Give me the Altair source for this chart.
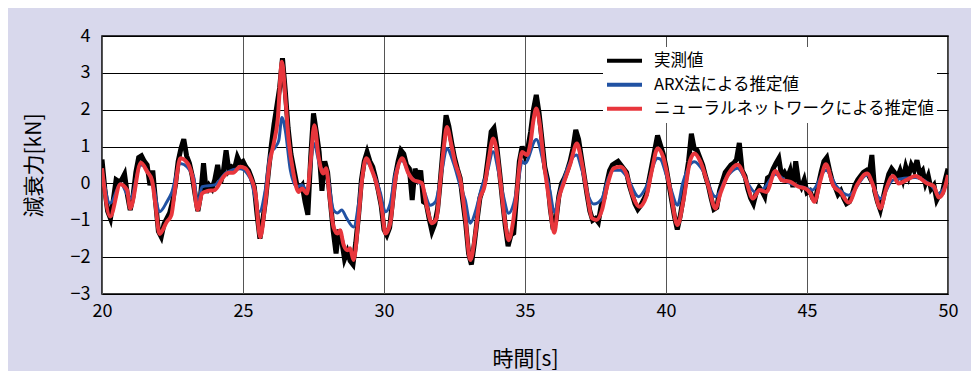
import altair as alt
import pandas as pd

SERIES = ["実測値", "ARX法による推定値", "ニューラルネットワークによる推定値"]
COLORS = ["#000000", "#2152a3", "#e8363c"]
FONT = "Noto Sans CJK JP"

# measured (sampled every 0.1 s from 20.0 to 50.0)
black_t = [round(20 + 0.1 * i, 1) for i in range(301)]
black_v = [
    0.65, -0.15, -0.75, -0.95, -0.45, 0.1, 0.05, 0.1, 0.25, -0.3,
    -0.72, -0.35, 0.3, 0.7, 0.75, 0.6, 0.5, -0.05, 0.35, -0.5,
    -1.3, -1.45, -1.1, -0.95, -0.8, -0.5, -0.05, 0.6, 0.95, 1.2,
    0.75, 0.55, 0.2, -0.3, -0.75, -0.3, 0.55, -0.25, -0.05, -0.15,
    0.1, 0.5, 0.0, 0.3, 0.9, 0.35, 0.45, 0.4, 0.72, 0.55,
    0.6, 0.45, 0.35, 0.15, -0.1, -0.85, -1.5, -1.0, -0.45, 0.3,
    1.0, 1.6, 2.1, 2.6, 3.4, 2.5, 1.5, 0.8, 0.4, 0.0,
    -0.15, -0.05, -0.5, -0.85, 0.7, 1.9, 1.4, 0.85, -0.2, 0.6,
    0.3, -0.5, -1.3, -1.9, -1.25, -1.55, -2.05, -1.85, -2.1, -2.2,
    -1.6, -0.85, 0.1, 0.6, 0.85, 0.6, 0.45, 0.15, -0.2, -0.6,
    -1.25, -1.4, -1.2, -0.5, 0.2, 0.6, 0.9, 0.8, 0.5, 0.4,
    -0.45, 0.4, 0.15, 0.35, -0.5, -0.55, -0.95, -1.3, -1.1, -0.7,
    0.1, 1.0, 1.85, 1.55, 1.1, 0.7, 0.4, 0.15, -0.5, -1.1,
    -1.9, -2.2, -1.65, -1.0, -0.4, -0.15, 0.15, 0.75, 1.4, 1.5,
    1.0, 0.3, -0.45, -1.15, -1.7, -1.4, -1.35, -0.35, 0.6, 1.0,
    0.75, 0.95, 1.4, 2.0, 2.4, 1.9, 1.2, 0.45, 0.1, -0.7,
    -1.25, -1.0, -0.35, 0.0, 0.15, 0.35, 0.6, 0.95, 1.45, 1.2,
    0.7, 0.2, -0.3, -0.75, -1.0, -0.95, -1.05, -0.6, -0.4, 0.0,
    0.35, 0.5, 0.55, 0.6, 0.5, 0.4, 0.3, -0.05, -0.3, -0.55,
    -0.7, -0.6, -0.45, -0.3, 0.1, 0.5, 0.9, 1.3, 1.05, 0.8,
    0.45, 0.0, -0.45, -0.9, -1.25, -0.9, -0.45, 0.1, 0.6, 1.35,
    0.95, 0.9, 0.7, 0.5, 0.2, -0.05, -0.4, -0.7, -0.65, -0.2,
    0.05, 0.3, 0.4, 0.5, 0.55, 0.65, 1.1, 0.35, 0.2, -0.15,
    -0.4, -0.55, -0.25, -0.1, -0.2, -0.35, 0.15, 0.2, 0.4, 0.55,
    0.68, 0.2, 0.3, 0.15, 0.35, -0.1, 0.6, 0.05, -0.1, 0.1,
    -0.25, -0.2, -0.4, -0.45, -0.05, 0.3, 0.6, 0.7, 0.35, 0.05,
    -0.1, -0.3, -0.2, -0.4, -0.55, -0.5, -0.3, -0.05, 0.1, 0.2,
    0.3, 0.35, 0.2, 0.77, -0.2, -0.5, -0.72, -0.4, -0.05, 0.25,
    0.4, 0.3, 0.15, 0.35, 0.1, 0.45, 0.2, 0.5, 0.35, 0.63,
    0.25, 0.35, 0.0, 0.2, -0.15, -0.05, -0.45, -0.3, -0.25, 0.1,
    0.4,
]

# ARX estimate
arx_t = [20.00, 20.29, 20.66, 21.00, 21.38, 21.83, 22.04, 22.30, 22.46, 22.78,
         23.25, 23.39, 23.55, 24.00, 24.40, 24.90, 25.26, 25.58, 25.79, 25.96,
         26.15, 26.27, 26.38, 26.50, 26.68, 26.91, 27.09, 27.27, 27.51, 27.74,
         27.98, 28.21, 28.35, 28.50, 28.68, 28.92, 29.10, 29.22, 29.37, 29.63,
         29.87, 30.05, 30.22, 30.40, 30.64, 30.93, 31.17, 31.34, 31.64, 31.82,
         32.06, 32.23, 32.47, 32.71, 32.88, 33.06, 33.24, 33.47, 33.65, 33.87,
         34.07, 34.24, 34.42, 34.60, 34.77, 34.90, 35.00, 35.40, 35.66, 35.88,
         36.04, 36.25, 36.82, 37.02, 37.26, 37.44, 37.73, 37.91, 38.14, 38.38,
         38.61, 39.03, 39.30, 39.70, 39.80, 40.00, 40.15, 40.41, 40.59, 41.01,
         41.33, 41.75, 42.16, 42.54, 42.87, 43.16, 43.46, 43.88, 44.29, 44.88,
         45.19, 45.67, 46.06, 46.48, 47.13, 47.60, 48.05, 48.84, 49.38, 49.67,
         50.00]
arx_v = [0.38, -0.54, -0.01, -0.41, 0.50, -0.09, -0.77, -0.50, -0.27, 0.54,
         0.18, -0.54, -0.09, -0.04, 0.29, 0.40, 0.13, -0.77, -0.18, 0.77,
         0.99, 1.17, 1.79, 1.44, 0.36, -0.09, -0.04, -0.20, 1.08, 0.45,
         0.27, -0.72, -0.80, -0.72, -0.95, -1.18, -0.54, 0.18, 0.59, 0.27,
         -0.25, -0.77, -0.54, 0.27, 0.62, 0.18, 0.05, -0.04, -0.59, -0.50,
         0.36, 0.95, 0.54, -0.09, -0.45, -1.08, -0.77, -0.09, 0.27, 0.86,
         0.27, -0.36, -0.81, -0.54, 0.09, 0.60, 0.54, 1.19, 0.54, -0.18,
         -0.77, -0.18, 0.77, 0.36, -0.36, -0.56, -0.41, 0.05, 0.36, 0.36,
         0.18, -0.36, -0.09, 0.68, 0.66, 0.25, -0.09, -0.59, 0.00, 0.59,
         0.32, -0.36, 0.18, 0.41, 0.04, -0.23, -0.14, 0.25, 0.04, -0.11,
         -0.18, 0.36, -0.09, -0.32, 0.23, -0.41, 0.09, 0.16, -0.04, -0.27,
         0.09]

# neural-network estimate
nn_t = [20.00, 20.29, 20.65, 20.89, 21.00, 21.38, 21.60, 21.77, 21.89, 22.04,
        22.30, 22.46, 22.60, 22.78, 23.04, 23.23, 23.39, 23.55, 23.72, 24.00,
        24.31, 24.49, 24.65, 24.90, 25.08, 25.26, 25.44, 25.61, 25.79, 25.94,
        26.09, 26.23, 26.38, 26.50, 26.62, 26.79, 26.97, 27.09, 27.27, 27.39,
        27.53, 27.68, 27.84, 27.95, 28.07, 28.21, 28.35, 28.44, 28.57, 28.71,
        28.80, 28.92, 29.10, 29.22, 29.37, 29.57, 29.75, 29.93, 30.05, 30.22,
        30.40, 30.64, 30.87, 31.05, 31.22, 31.34, 31.52, 31.70, 31.86, 32.00,
        32.11, 32.23, 32.38, 32.53, 32.71, 32.88, 33.06, 33.24, 33.39, 33.56,
        33.71, 33.87, 34.01, 34.15, 34.30, 34.42, 34.57, 34.70, 34.80, 34.90,
        35.07, 35.19, 35.30, 35.40, 35.52, 35.66, 35.84, 36.04, 36.19, 36.37,
        36.61, 36.84, 37.02, 37.20, 37.38, 37.53, 37.73, 37.91, 38.14, 38.38,
        38.59, 38.79, 39.06, 39.30, 39.50, 39.70, 39.90, 40.00, 40.15, 40.41,
        40.62, 40.86, 41.01, 41.22, 41.51, 41.75, 41.93, 42.22, 42.54, 42.81,
        43.08, 43.32, 43.56, 43.88, 44.11, 44.41, 44.70, 44.94, 45.12, 45.26,
        45.48, 45.67, 45.94, 46.18, 46.48, 46.77, 47.13, 47.36, 47.60, 47.81,
        48.05, 48.25, 48.52, 48.84, 49.26, 49.49, 49.67, 49.84, 50.00]
nn_v = [0.41, -0.90, -0.02, -0.18, -0.68, 0.56, 0.32, 0.09, -0.54, -1.37,
        -1.04, -0.86, -0.09, 0.68, 0.54, 0.09, -0.72, -0.27, -0.21, -0.18,
        0.18, 0.29, 0.29, 0.45, 0.41, 0.18, -0.27, -1.46, -0.54, 0.54,
        1.08, 1.72, 3.30, 2.35, 1.17, 0.27, -0.23, -0.14, -0.27, 0.54,
        1.58, 0.72, 0.27, 0.41, -0.36, -1.18, -1.36, -1.27, -1.67, -1.81,
        -1.76, -2.08, -0.90, 0.09, 0.68, 0.36, -0.05, -0.72, -1.36, -1.08,
        0.09, 0.68, 0.27, 0.09, 0.05, 0.01, -0.63, -1.08, -0.95, 0.09,
        0.90, 1.53, 1.08, 0.54, 0.09, -0.90, -2.08, -1.36, -0.45, -0.09,
        0.63, 1.22, 0.81, -0.09, -1.08, -1.54, -1.08, -0.30, 0.45, 0.85,
        0.77, 1.08, 1.72, 2.03, 1.63, 0.63, -0.36, -1.34, -0.45, 0.00,
        0.54, 1.08, 0.54, -0.27, -0.95, -0.99, -0.72, -0.09, 0.41, 0.45,
        0.27, -0.27, -0.63, -0.36, 0.36, 0.95, 0.72, 0.40, -0.18, -1.13,
        -0.45, 0.63, 0.81, 0.59, -0.09, -0.68, -0.27, 0.27, 0.51, 0.14,
        -0.41, -0.18, -0.23, 0.34, 0.09, 0.04, -0.09, -0.14, -0.27, -0.50,
        0.09, 0.52, -0.07, -0.23, -0.52, -0.05, 0.27, -0.09, -0.68, -0.14,
        0.20, 0.00, 0.09, 0.20, 0.00, -0.07, -0.38, -0.23, 0.23]

df_black = pd.DataFrame({"t": black_t, "v": black_v, "s": SERIES[0]})
df_arx = pd.DataFrame({"t": arx_t, "v": arx_v, "s": SERIES[1]})
df_nn = pd.DataFrame({"t": nn_t, "v": nn_v, "s": SERIES[2]})

x = alt.X("t:Q", scale=alt.Scale(domain=[20, 50], nice=False, zero=False),
          axis=alt.Axis(values=list(range(20, 51, 5)), title="時間[s]",
                        labelPadding=8, titlePadding=28, labelFlush=False,
                        gridColor="#555555"))
y = alt.Y("v:Q", scale=alt.Scale(domain=[-3, 4], nice=False, zero=False),
          axis=alt.Axis(values=list(range(-3, 5)), title="減衰力[kN]",
                        labelPadding=12, titlePadding=26, labelFlush=False,
                        gridColor="#000000"))
color = alt.Color(
    "s:N",
    scale=alt.Scale(domain=SERIES, range=COLORS),
    legend=alt.Legend(
        title=None, orient="none", legendX=501, legendY=11,
        symbolType="M-1,0H1", symbolSize=1225, symbolStrokeWidth=4,
        labelFont=FONT, labelFontSize=16.5, labelColor="#000000",
        labelOffset=10, labelLimit=500, fillColor="white",
        padding=2, rowPadding=0, clipHeight=23.5,
    ),
)

l_black = alt.Chart(df_black).mark_line(strokeWidth=5, clip=True).encode(x=x, y=y, color=color)
l_arx = alt.Chart(df_arx).mark_line(strokeWidth=3, interpolate="monotone", clip=True).encode(x=x, y=y, color=color)
l_nn = alt.Chart(df_nn).mark_line(strokeWidth=4, interpolate="monotone", clip=True).encode(x=x, y=y, color=color)

chart = (
    alt.layer(l_black, l_arx, l_nn)
    .properties(
        width=846, height=258,
        autosize=alt.AutoSizeParams(type="none"),
        padding={"left": 94, "top": 28, "right": 23, "bottom": 77},
        background="#d8d8ec",
    )
    .configure_view(fill="white", stroke="#000000", strokeWidth=1.5)
    .configure_axis(
        labelFont=FONT, labelFontSize=18, labelColor="#000000",
        titleFont=FONT, titleFontSize=21, titleFontWeight="normal", titleColor="#000000",
        ticks=False, domain=False, grid=True, gridWidth=1, gridOpacity=1,
    )
)

chart.save("out.html", embed_options={"renderer": "svg", "actions": False})
